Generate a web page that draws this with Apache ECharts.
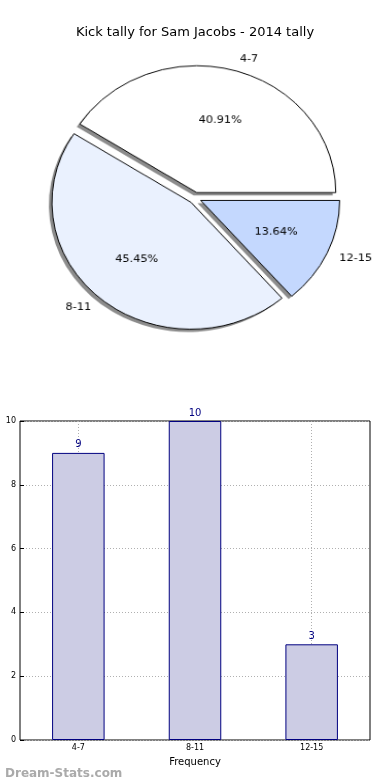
<!DOCTYPE html>
<html><head><meta charset="utf-8">
<script src="https://cdn.jsdelivr.net/npm/echarts@6/dist/echarts.min.js"></script>
<style>
html,body{margin:0;padding:0;background:#fff}
#wrap{position:relative;width:390px;height:780px;overflow:hidden}
#c{position:absolute;left:0;top:0;width:390px;height:780px}
#p{position:absolute;left:0;top:0;width:390px;height:400px;transform-origin:195px 198px;transform:scale(1.03,0.94)}
</style>
</head><body><div id="wrap"><div id="c"></div><div id="p"></div></div>
<script>
var categories = ['4-7', '8-11', '12-15'];
var values = [9, 10, 3];
var pieColors = ['#ffffff', '#eaf1fe', '#c4d8fe'];
var labelAligns = [1, -1, 1];
var titleText = 'Kick tally for Sam Jacobs - 2014 tally';
var xName = 'Frequency';
var yName = 'Kick tally';
var watermark = 'Dream-Stats.com';

var FONT = 'DejaVu Sans';
var R = 135, CX = 195, CY = 198, OFF = 6, RL = 155;
var ctx = document.createElement('canvas').getContext('2d');
ctx.font = '11px "' + FONT + '"';
function pieData(styleFn, labelFn) {
  return categories.map(function (c, i) {
    var d = { name: c, value: values[i], selected: true, itemStyle: styleFn(i) };
    if (labelFn) d.label = labelFn(i);
    return d;
  });
}
var clear = function () { return { color: 'rgba(0,0,0,0)', borderWidth: 0, borderColor: 'rgba(0,0,0,0)' }; };

var chart = echarts.init(document.getElementById('c'), null, { renderer: 'canvas' });
chart.setOption({
  animation: false,
  title: [
    { text: titleText, left: 'center', top: 21, textStyle: { fontFamily: FONT, fontSize: 13, fontWeight: 'normal', color: '#000' } },
    { text: watermark, left: 0, top: 763, textStyle: { fontFamily: FONT, fontSize: 12, fontWeight: 'bold', color: '#aaaaaa' } }
  ],
  grid: { left: 20, right: 20, top: 421, bottom: 40, show: true, borderColor: '#000', borderWidth: 1,
    containLabel: false, outerBoundsMode: 'none' },
  xAxis: {
    type: 'category', data: categories, name: xName, nameLocation: 'middle', nameGap: 17,
    nameTextStyle: { fontFamily: FONT, fontSize: 10, color: '#000' },
    axisLine: { show: false },
    axisTick: { show: true, inside: true, alignWithLabel: true, length: 4, lineStyle: { color: '#000' } },
    axisLabel: { fontFamily: FONT, fontSize: 8, color: '#000', margin: 4 },
    splitLine: { show: true, alignWithLabel: true, lineStyle: { color: '#b0b0b0', type: [1, 2] } }
  },
  yAxis: {
    type: 'value', min: 0, max: 10, interval: 2, name: yName, nameLocation: 'middle', nameGap: 20, nameRotate: 90,
    nameTextStyle: { fontFamily: FONT, fontSize: 10, color: '#000' },
    axisLine: { show: false },
    axisTick: { show: true, inside: true, length: 4, lineStyle: { color: '#000' } },
    axisLabel: { fontFamily: FONT, fontSize: 8, color: '#000', margin: 4 },
    splitLine: { show: true, lineStyle: { color: '#b0b0b0', type: [1, 2] } }
  },
  series: [
    {
      type: 'bar', data: values, barWidth: '45%', z: 3,
      itemStyle: { color: '#ccccE4', borderColor: '#000080', borderWidth: 1 },
      label: { show: true, position: 'top', distance: 3, fontFamily: FONT, fontSize: 10, color: '#000080' }
    }
  ]
});

var pie = echarts.init(document.getElementById('p'), null, { renderer: 'canvas' });
var common = { type: 'pie', center: [CX, CY], startAngle: 0, clockwise: false,
  selectedMode: 'multiple', selectedOffset: OFF, silent: true };
pie.setOption({
  animation: false,
  series: [
    Object.assign({}, common, {
      center: [CX - 3, CY + 3], radius: [0, R], z: 1,
      label: { show: false }, labelLine: { show: false },
      data: pieData(function () { return { color: '#8c8c8c', borderWidth: 0 }; })
    }),
    Object.assign({}, common, {
      radius: [0, R], z: 2,
      label: { show: false }, labelLine: { show: false },
      data: pieData(function (i) { return { color: pieColors[i], borderColor: '#000', borderWidth: 1 }; })
    }),
    Object.assign({}, common, {
      radius: [0, RL], z: 4,
      itemStyle: clear(), labelLine: { show: false },
      label: { show: true, position: 'inside', fontFamily: FONT, fontSize: 11, color: '#000',
        formatter: function (p) { return p.percent.toFixed(2) + '%'; } },
      data: pieData(clear)
    }),
    Object.assign({}, common, {
      radius: [R, RL], z: 4,
      itemStyle: clear(), labelLine: { show: false },
      label: { show: true, position: 'inside', fontFamily: FONT, fontSize: 11, color: '#000', formatter: '{b}' },
      data: pieData(clear, function (i) {
        var w = Math.round(ctx.measureText(categories[i]).width);
        return { padding: labelAligns[i] > 0 ? [0, 0, 0, w] : [0, w, 0, 0] };
      })
    })
  ]
});
</script></body></html>
